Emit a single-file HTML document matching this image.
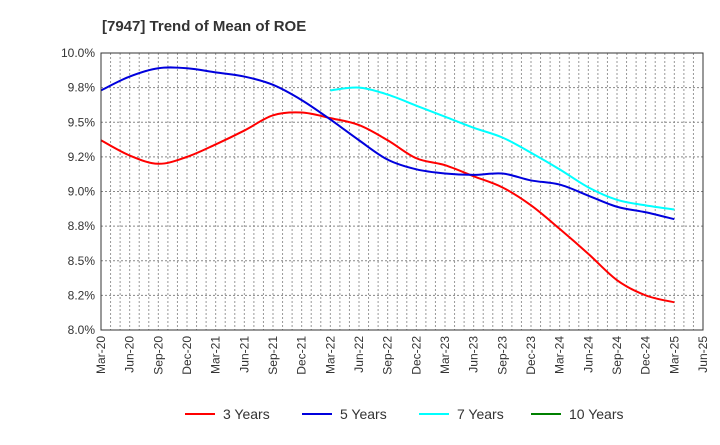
<!DOCTYPE html>
<html><head><meta charset="utf-8"><style>
body{margin:0;background:#fff;}
svg text{font-family:"Liberation Sans",Arial,sans-serif;}
</style></head><body>
<svg id="chart" width="720" height="440" xmlns="http://www.w3.org/2000/svg">
<text x="102" y="31" font-size="15" font-weight="bold" fill="#333">[7947]  Trend of Mean of ROE</text>
<g id="grid"></g><g id="series"></g><g id="axes"></g><g id="legend"></g>
</svg>
<script>
const xLabels=["Mar-20","Jun-20","Sep-20","Dec-20","Mar-21","Jun-21","Sep-21","Dec-21","Mar-22","Jun-22","Sep-22","Dec-22","Mar-23","Jun-23","Sep-23","Dec-23","Mar-24","Jun-24","Sep-24","Dec-24","Mar-25","Jun-25"];
const yTicks=[8.0,8.25,8.5,8.75,9.0,9.25,9.5,9.75,10.0];
const yTickLabels=["8.0%","8.2%","8.5%","8.8%","9.0%","9.2%","9.5%","9.8%","10.0%"];
const seriesNames=["3 Years","5 Years","7 Years","10 Years"];
const seriesColors=["#ff0000","#0000dd","#00ffff","#008000"];
const y3=[9.37,9.26,9.20,9.25,9.34,9.44,9.55,9.57,9.53,9.48,9.37,9.24,9.19,9.11,9.03,8.90,8.73,8.55,8.36,8.25,8.20];
const y5=[9.73,9.83,9.89,9.89,9.86,9.83,9.77,9.66,9.52,9.37,9.23,9.16,9.13,9.12,9.13,9.08,9.05,8.97,8.89,8.85,8.80];
const y7=[null,null,null,null,null,null,null,null,9.73,9.75,9.70,9.62,9.54,9.46,9.39,9.28,9.16,9.03,8.94,8.90,8.87];
const y10=[];
const L=101,R=703,T=53,B=330;
const NS="http://www.w3.org/2000/svg";
const xs=i=>L+(R-L)*i/(xLabels.length-1);
const ys=v=>B-(v-8)/2*(B-T);
function mk(t,a,p){const e=document.createElementNS(NS,t);for(const k in a)e.setAttribute(k,a[k]);p.appendChild(e);return e;}
const grid=document.getElementById('grid'),axes=document.getElementById('axes'),ser=document.getElementById('series'),leg=document.getElementById('legend');
for(let m=1;m<(xLabels.length-1)*3;m++){const x=L+(R-L)*m/((xLabels.length-1)*3);
const g=mk('line',{x1:x,x2:x,y1:T,y2:B,stroke:'#999','stroke-dasharray':'2,2','stroke-width':1},grid);

}
yTicks.forEach((v,i)=>{const y=ys(v);
const g=mk('line',{x1:L,x2:R,y1:y,y2:y,stroke:'#888','stroke-dasharray':'2,2','stroke-width':1},grid);


const t=mk('text',{x:L-6,y:y+4,'text-anchor':'end','font-size':12,fill:'#333'},axes);t.textContent=yTickLabels[i];

});
xLabels.forEach((s,i)=>{const x=xs(i);
const t=mk('text',{transform:`translate(${x+4},${B+6}) rotate(-90)`,'text-anchor':'end','font-size':12,fill:'#333'},axes);t.textContent=s;

});
const fr=mk('rect',{x:L,y:T,width:R-L,height:B-T,fill:'none',stroke:'#333','stroke-width':1},axes);


function path(vals){const p=[];vals.forEach((v,i)=>{if(v!=null)p.push([xs(i),ys(v)]);});if(p.length<2)return '';
let d=`M${p[0][0]},${p[0][1]}`;for(let i=0;i<p.length-1;i++){const p0=p[i-1]||p[i],p1=p[i],p2=p[i+1],p3=p[i+2]||p2;
d+=` C${p1[0]+(p2[0]-p0[0])/6},${p1[1]+(p2[1]-p0[1])/6} ${p2[0]-(p3[0]-p1[0])/6},${p2[1]-(p3[1]-p1[1])/6} ${p2[0]},${p2[1]}`;}return d;}
[y3,y5,y7,y10].forEach((vals,k)=>{const d=path(vals);if(!d)return;
const e=mk('path',{d:d,fill:'none',stroke:seriesColors[k],'stroke-width':2},ser);

});
const lx=[185,302,419,531];
seriesNames.forEach((n,k)=>{const g=mk('g',{},leg);


mk('line',{x1:lx[k],x2:lx[k]+30,y1:414,y2:414,stroke:seriesColors[k],'stroke-width':2},g);
const t=mk('text',{x:lx[k]+38,y:419,'font-size':14,fill:'#333'},g);t.textContent=n;});
</script>
</body></html>
